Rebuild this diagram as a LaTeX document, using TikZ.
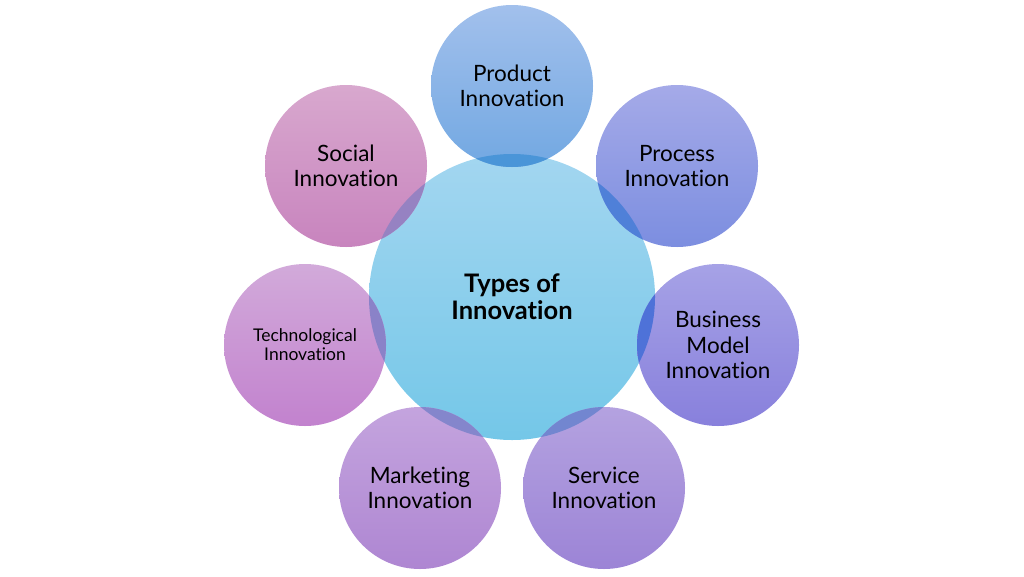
\documentclass[tikz,border=0pt]{standalone}
\usepackage{fontspec}
\setmainfont{Lato}[Ligatures={NoCommon}]
\usetikzlibrary{positioning}

\definecolor{hubTop}{HTML}{A3D6F0}
\definecolor{hubBot}{HTML}{74C7E8}
\definecolor{prodTop}{HTML}{A2C0EC}
\definecolor{prodBot}{HTML}{72A8E2}
\definecolor{procTop}{HTML}{A5AAE8}
\definecolor{procBot}{HTML}{7C8EE0}
\definecolor{busiTop}{HTML}{A6A2E6}
\definecolor{busiBot}{HTML}{8880DC}
\definecolor{servTop}{HTML}{B4A2E0}
\definecolor{servBot}{HTML}{9C84D6}
\definecolor{markTop}{HTML}{C4A4DE}
\definecolor{markBot}{HTML}{AE86D2}
\definecolor{techTop}{HTML}{D2AADA}
\definecolor{techBot}{HTML}{C282CE}
\definecolor{socTop}{HTML}{D8A8CE}
\definecolor{socBot}{HTML}{C884BE}
\definecolor{prodOv}{HTML}{4A95D8}
\definecolor{procOv}{HTML}{4F80D8}
\definecolor{busiOv}{HTML}{4E72D8}
\definecolor{servOv}{HTML}{7286D0}
\definecolor{markOv}{HTML}{8486CC}
\definecolor{techOv}{HTML}{8A82C8}
\definecolor{socOv}{HTML}{9682C2}

\tikzset{
	hub/.style={circle, minimum size=286pt, inner sep=0pt, align=center,
		top color=hubTop, bottom color=hubBot, font=\bfseries\fontsize{25.5}{27}\selectfont},
	bubble/.style={circle, minimum size=162pt, inner sep=0pt, align=center,
		font=\fontsize{22.5}{25.5}\selectfont}
}

\begin{document}
\begin{tikzpicture}[x=1pt, y=-1pt, every node/.append style={text=black}]
	\useasboundingbox (0,0) rectangle (1024,576);

	\node[hub] (types) at (512,297) {Types of\\Innovation};

	\node[bubble, top color=prodTop, bottom color=prodBot] (product) at (512,86) {Product\\Innovation};
	\node[bubble, top color=procTop, bottom color=procBot] (process) at (677,166) {Process\\Innovation};
	\node[bubble, top color=busiTop, bottom color=busiBot] (business) at (718,345) {Business\\Model\\Innovation};
	\node[bubble, top color=servTop, bottom color=servBot] (service) at (604,488) {Service\\Innovation};
	\node[bubble, top color=markTop, bottom color=markBot] (marketing) at (420,488) {Marketing\\Innovation};
	\node[bubble, top color=techTop, bottom color=techBot, font=\fontsize{17.5}{19}\selectfont] (techno) at (305,345) {Technological\\Innovation};
	\node[bubble, top color=socTop, bottom color=socBot] (social) at (346,166) {Social\\Innovation};

	% overlaps with the hub
	\foreach \b/\c in {product/prodOv, process/procOv, business/busiOv, service/servOv,
		marketing/markOv, techno/techOv, social/socOv} {
		\begin{scope}
			\clip (types.center) circle (143);
			\fill[\c] (\b.center) circle (81);
		\end{scope}
	}
\end{tikzpicture}
\end{document}
